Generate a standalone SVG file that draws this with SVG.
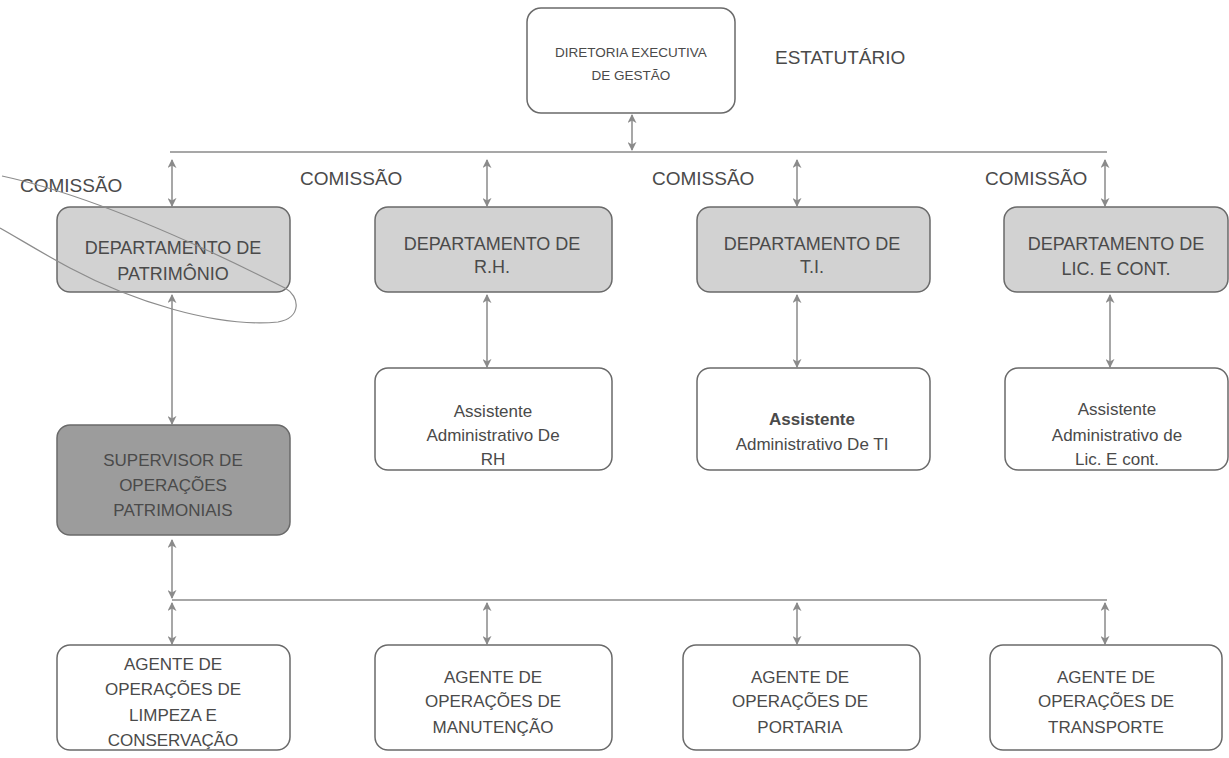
<svg xmlns="http://www.w3.org/2000/svg" width="1229" height="758" viewBox="0 0 1229 758">
<defs>
<marker id="ah" viewBox="0 0 10 10" refX="9" refY="5" markerWidth="9" markerHeight="9" markerUnits="userSpaceOnUse" orient="auto-start-reverse">
<path d="M0,0 L10,5 L0,10 L3,5 Z" fill="#8a8a8a"/>
</marker>
<style>
.box{stroke:#6a6a6a;stroke-width:1.5}
.w{fill:#ffffff}
.g{fill:#d2d2d2}
.dg{fill:#9c9c9c}
text{font-family:"Liberation Sans",Arial,sans-serif;fill:#4a4a4a;text-anchor:middle}
.t13{font-size:13.5px}
.t18{font-size:18px}
.t17{font-size:17px}
.lbl{font-size:19px;text-anchor:start}
.con line{stroke:#8a8a8a;stroke-width:1.5;fill:none}
.arr{marker-start:url(#ah);marker-end:url(#ah)}
.bar{stroke:#777;stroke-width:2}
</style>
</defs>
<rect width="1229" height="758" fill="#ffffff"/>

<g id="connectors" class="con">
<line class="arr" x1="632" y1="115" x2="632" y2="150"/>
<line class="bar" x1="170" y1="152" x2="1107" y2="152"/>
<line class="arr" x1="172" y1="160" x2="172" y2="206"/>
<line class="arr" x1="487" y1="160" x2="487" y2="206"/>
<line class="arr" x1="797" y1="160" x2="797" y2="206"/>
<line class="arr" x1="1105" y1="160" x2="1105" y2="206"/>
<line class="arr" x1="172" y1="295" x2="172" y2="424"/>
<line class="arr" x1="487" y1="295" x2="487" y2="367"/>
<line class="arr" x1="797" y1="295" x2="797" y2="367"/>
<line class="arr" x1="1110" y1="295" x2="1110" y2="367"/>
<line class="arr" x1="172" y1="540" x2="172" y2="598"/>
<line class="bar" x1="172" y1="600" x2="1107" y2="600"/>
<line class="arr" x1="172" y1="603" x2="172" y2="644"/>
<line class="arr" x1="487" y1="603" x2="487" y2="644"/>
<line class="arr" x1="797" y1="603" x2="797" y2="644"/>
<line class="arr" x1="1105" y1="603" x2="1105" y2="644"/>
</g>

<g id="labels">
<text class="lbl" x="775" y="64">ESTATUTÁRIO</text>
<text class="lbl" x="20" y="192">COMISSÃO</text>
<text class="lbl" x="300" y="185">COMISSÃO</text>
<text class="lbl" x="652" y="185">COMISSÃO</text>
<text class="lbl" x="985" y="185">COMISSÃO</text>
</g>

<g id="n-diretoria">
<rect class="box w" x="527" y="8" width="208" height="105" rx="14"/>
<text class="t13" x="631" y="57">DIRETORIA EXECUTIVA</text>
<text class="t13" x="631" y="80">DE GESTÃO</text>
</g>

<g id="n-dep-patrimonio">
<rect class="box g" x="57" y="207" width="233" height="85" rx="13"/>
<text class="t18" x="173" y="254">DEPARTAMENTO DE</text>
<text class="t18" x="173" y="280">PATRIMÔNIO</text>
</g>
<g id="n-dep-rh">
<rect class="box g" x="375" y="207" width="237" height="85" rx="13"/>
<text class="t18" x="492" y="250">DEPARTAMENTO DE</text>
<text class="t18" x="492" y="273">R.H.</text>
</g>
<g id="n-dep-ti">
<rect class="box g" x="697" y="207" width="233" height="85" rx="13"/>
<text class="t18" x="812" y="250">DEPARTAMENTO DE</text>
<text class="t18" x="812" y="273">T.I.</text>
</g>
<g id="n-dep-lic">
<rect class="box g" x="1004" y="207" width="224" height="85" rx="13"/>
<text class="t18" x="1116" y="250">DEPARTAMENTO DE</text>
<text class="t18" x="1116" y="275">LIC. E CONT.</text>
</g>

<g id="n-assist-rh">
<rect class="box w" x="375" y="368" width="237" height="102" rx="13"/>
<text class="t17" x="493" y="417">Assistente</text>
<text class="t17" x="493" y="441">Administrativo De</text>
<text class="t17" x="493" y="465">RH</text>
</g>
<g id="n-assist-ti">
<rect class="box w" x="697" y="368" width="233" height="102" rx="13"/>
<text class="t17" x="812" y="425" font-weight="bold">Assistente</text>
<text class="t17" x="812" y="450">Administrativo De TI</text>
</g>
<g id="n-assist-lic">
<rect class="box w" x="1005" y="368" width="223" height="102" rx="13"/>
<text class="t17" x="1117" y="415">Assistente</text>
<text class="t17" x="1117" y="441">Administrativo de</text>
<text class="t17" x="1117" y="465">Lic. E cont.</text>
</g>

<g id="n-supervisor">
<rect class="box dg" x="57" y="425" width="233" height="110" rx="13"/>
<text class="t17" x="173" y="466">SUPERVISOR DE</text>
<text class="t17" x="173" y="491">OPERAÇÕES</text>
<text class="t17" x="173" y="516">PATRIMONIAIS</text>
</g>

<g id="n-ag-limpeza">
<rect class="box w" x="57" y="645" width="233" height="105" rx="13"/>
<text class="t17" x="173" y="670">AGENTE DE</text>
<text class="t17" x="173" y="695">OPERAÇÕES DE</text>
<text class="t17" x="173" y="721">LIMPEZA E</text>
<text class="t17" x="173" y="746">CONSERVAÇÃO</text>
</g>
<g id="n-ag-manutencao">
<rect class="box w" x="375" y="645" width="237" height="105" rx="13"/>
<text class="t17" x="493" y="683">AGENTE DE</text>
<text class="t17" x="493" y="707">OPERAÇÕES DE</text>
<text class="t17" x="493" y="733">MANUTENÇÃO</text>
</g>
<g id="n-ag-portaria">
<rect class="box w" x="683" y="645" width="237" height="105" rx="13"/>
<text class="t17" x="800" y="683">AGENTE DE</text>
<text class="t17" x="800" y="707">OPERAÇÕES DE</text>
<text class="t17" x="800" y="733">PORTARIA</text>
</g>
<g id="n-ag-transporte">
<rect class="box w" x="990" y="645" width="232" height="105" rx="13"/>
<text class="t17" x="1106" y="683">AGENTE DE</text>
<text class="t17" x="1106" y="707">OPERAÇÕES DE</text>
<text class="t17" x="1106" y="733">TRANSPORTE</text>
</g>

<path id="scribble" d="M 2,176 C 90,195 200,245 285,288 C 300,296 302,318 278,322 C 215,328 130,300 70,268 C 40,252 18,238 0,228" fill="none" stroke="#8c8c8c" stroke-width="1.2"/>
</svg>
